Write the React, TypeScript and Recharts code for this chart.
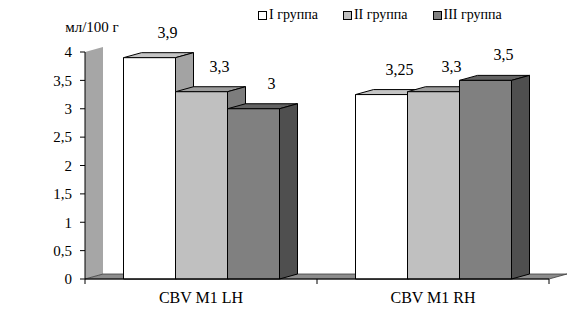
import React from 'react';
import { BarChart, Bar, XAxis, YAxis, Legend, LabelList, ReferenceArea } from 'recharts';

const categories = ['CBV M1 LH', 'CBV M1 RH'];
const groupI = [3.9, 3.25];
const groupII = [3.3, 3.3];
const groupIII = [3, 3.5];
const seriesNames = ['I группа', 'II группа', 'III группа'];
const yTicks = [0, 0.5, 1, 1.5, 2, 2.5, 3, 3.5, 4];
const unitLabel = 'мл/100 г';

const data = categories.map((name, i) => ({
  name,
  g1: groupI[i],
  g2: groupII[i],
  g3: groupIII[i],
}));

// depth of the pseudo-3D extrusion
const DX = 18;
const DY = 5;

const FONT = "'Liberation Serif', 'Times New Roman', serif";
const textStyle = { fontFamily: FONT };

const palette = [
  { front: '#ffffff', top: '#c4c4c4', side: '#a3a3a3' },
  { front: '#c0c0c0', top: '#9c9c9c', side: '#7d7d7d' },
  { front: '#808080', top: '#636363', side: '#4f4f4f' },
];

const comma = (v: number | string) => String(v).replace('.', ',');

const makeBox = (c: { front: string; top: string; side: string }) => (props: any) => {
  const { x, y, width, height } = props;
  if (width == null || height == null) return null;
  const x2 = x + width;
  const y2 = y + height;
  return (
    <g stroke="#000" strokeWidth={1} strokeLinejoin="round">
      <path d={`M${x},${y} L${x + DX},${y - DY} L${x2 + DX},${y - DY} L${x2},${y} Z`} fill={c.top} />
      <path d={`M${x2},${y} L${x2 + DX},${y - DY} L${x2 + DX},${y2 - DY} L${x2},${y2} Z`} fill={c.side} />
      <rect x={x} y={y} width={width} height={height} fill={c.front} />
    </g>
  );
};

// side wall + floor of the 3D frame, plus boundary ticks on the category axis
const Frame = (props: any) => {
  const { x, y, width, height } = props;
  const b = y + height;
  const r = x + width;
  return (
    <g>
      <path d={`M${x},${y} L${x + DX},${y - DY} L${x + DX},${b - DY} L${x},${b} Z`} fill="#a6a6a6" />
      <path
        d={`M${x},${b} L${r},${b} L${r + DX},${b - DY} L${x + DX},${b - DY} Z`}
        fill="#8c8c8c"
        stroke="#3a3a3a"
        strokeWidth={0.8}
      />
      {[x, x + width / 2, r].map((tx, i) => (
        <line key={i} x1={tx} y1={b} x2={tx} y2={b + 5} stroke="#000" />
      ))}
    </g>
  );
};

const ValueLabel = (props: any) => {
  const { x, y, width, value } = props;
  return (
    <text
      x={x + width / 2 + DX}
      y={y - DY - 15}
      textAnchor="middle"
      style={textStyle}
      fontSize={16}
      fill="#000"
    >
      {comma(value)}
    </text>
  );
};

const CategoryTick = (props: any) => {
  const { x, y, payload } = props;
  return (
    <text x={x} y={y + 16} textAnchor="middle" style={textStyle} fontSize={16} fill="#000">
      {payload.value}
    </text>
  );
};

const LegendBox = () => (
  <div style={{ display: 'flex', fontFamily: FONT, fontSize: 14, color: '#000', lineHeight: '16px' }}>
    {seriesNames.map((n, i) => (
      <div key={n} style={{ display: 'flex', alignItems: 'center', marginRight: 25 }}>
        <span
          style={{
            width: 7,
            height: 7,
            border: '1px solid #000',
            background: palette[i].front,
            marginRight: 2,
          }}
        />
        <span>{n}</span>
      </div>
    ))}
  </div>
);

export default function App() {
  return (
    <div
      style={{
        position: 'absolute',
        left: 0,
        top: 0,
        width: 572,
        height: 317,
        background: '#fff',
        fontFamily: FONT,
      }}
    >
      <BarChart
        width={572}
        height={317}
        data={data}
        margin={{ top: 52, right: 23, bottom: 0, left: 0 }}
        barCategoryGap="16.6%"
        barGap={0}
        style={textStyle}
      >
        <ReferenceArea y1={0} y2={4} shape={Frame} ifOverflow="visible" />
        <XAxis
          dataKey="name"
          height={38}
          axisLine={{ stroke: '#000' }}
          tickLine={false}
          tick={<CategoryTick />}
          interval={0}
        />
        <YAxis
          width={85}
          domain={[0, 4]}
          ticks={yTicks}
          interval={0}
          tickFormatter={comma}
          axisLine={{ stroke: '#000' }}
          tickLine={{ stroke: '#000' }}
          tickSize={5}
          tickMargin={8}
          tick={{ style: textStyle, fontSize: 15, fill: '#000' }}
          label={({ viewBox }: any) => (
            <text
              x={viewBox.x + viewBox.width + 7}
              y={viewBox.y - 20}
              textAnchor="middle"
              style={textStyle}
              fontSize={15}
              fill="#000"
            >
              {unitLabel}
            </text>
          )}
        />
        <Legend
          layout="horizontal"
          align="center"
          verticalAlign="middle"
          wrapperStyle={{ top: 7, left: 258, width: 'auto' }}
          content={<LegendBox />}
        />
        <Bar dataKey="g1" name={seriesNames[0]} shape={makeBox(palette[0])} isAnimationActive={false}>
          <LabelList dataKey="g1" content={<ValueLabel />} />
        </Bar>
        <Bar dataKey="g2" name={seriesNames[1]} shape={makeBox(palette[1])} isAnimationActive={false}>
          <LabelList dataKey="g2" content={<ValueLabel />} />
        </Bar>
        <Bar dataKey="g3" name={seriesNames[2]} shape={makeBox(palette[2])} isAnimationActive={false}>
          <LabelList dataKey="g3" content={<ValueLabel />} />
        </Bar>
      </BarChart>
    </div>
  );
}
